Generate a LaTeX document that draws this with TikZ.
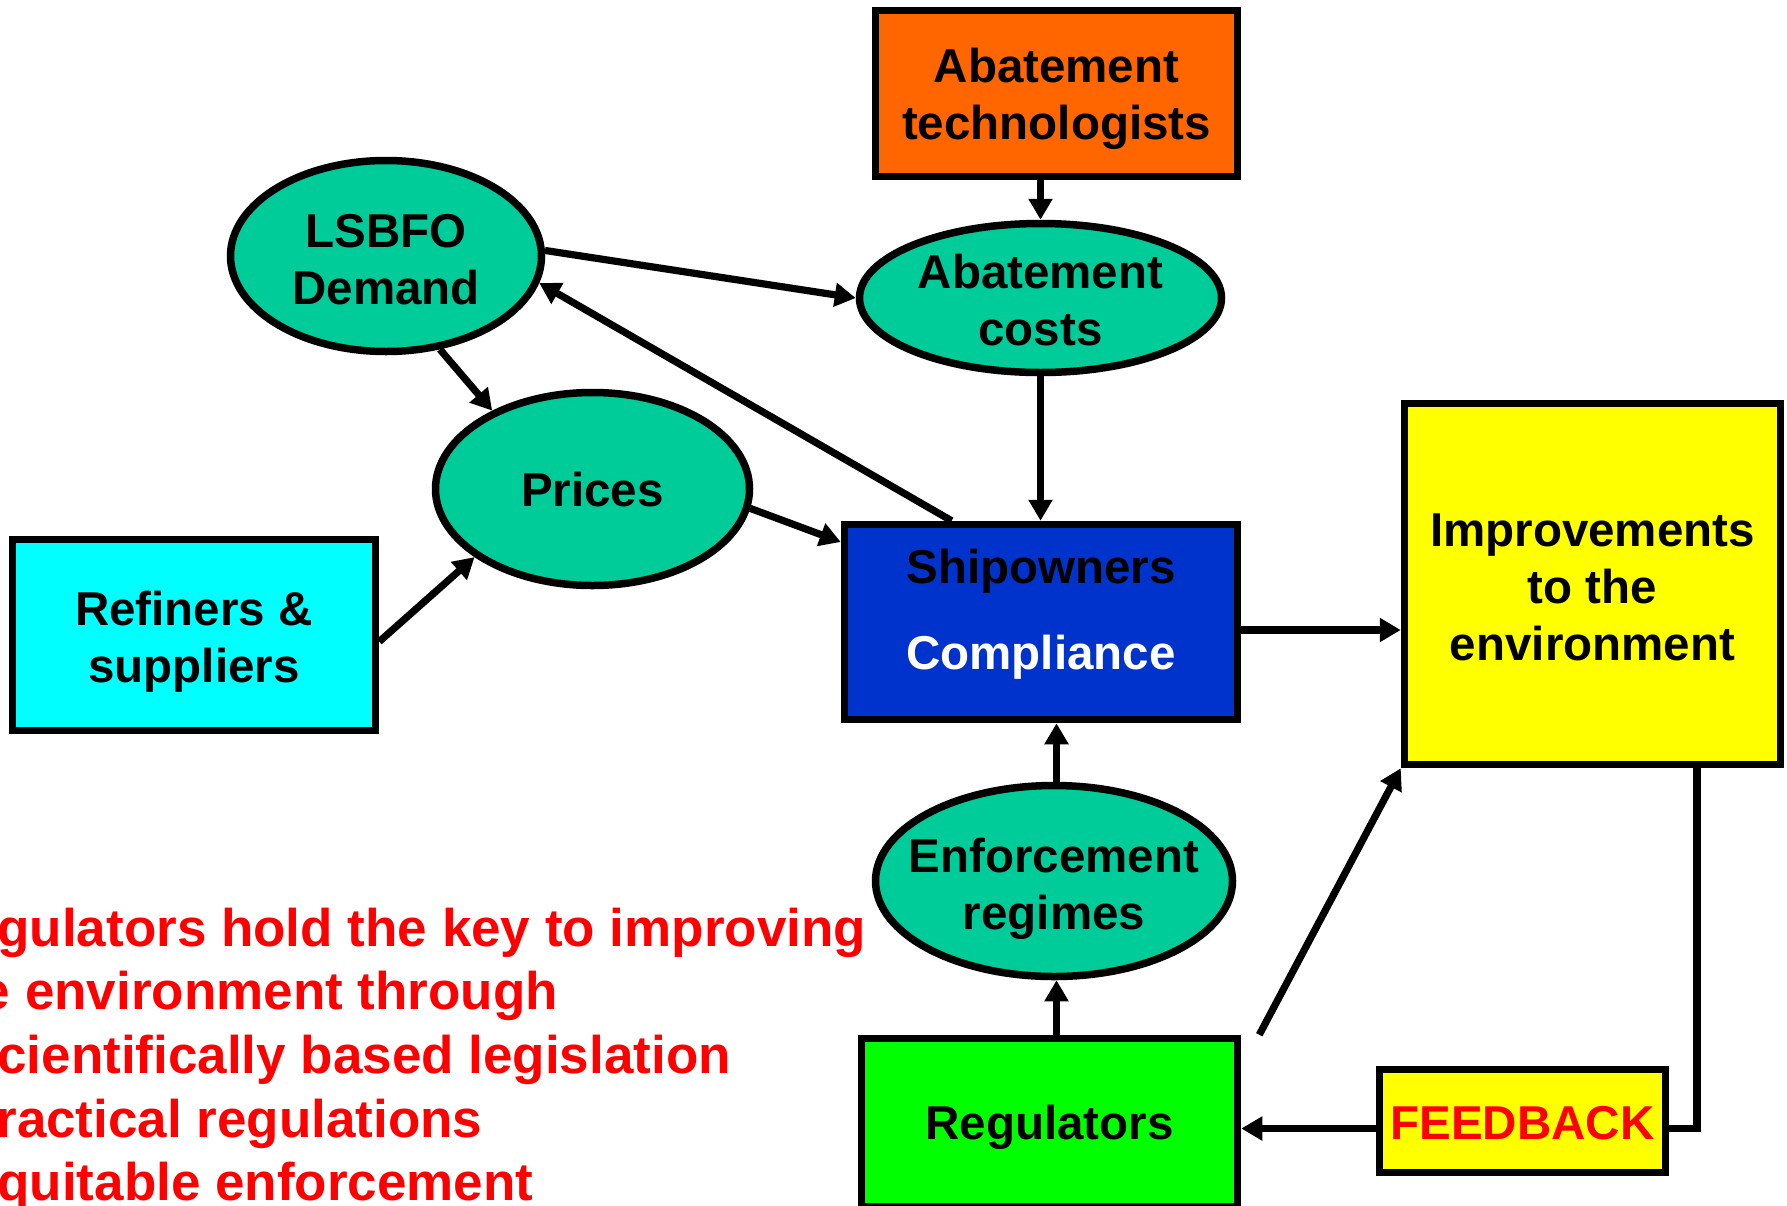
\documentclass[tikz,border=0pt]{standalone}
\usepackage{fontspec}
\setmainfont{Liberation Sans}
\usetikzlibrary{shapes.geometric,arrows.meta,calc}
\definecolor{ovalgreen}{HTML}{00CC99}
\definecolor{techorange}{HTML}{FF6600}
\definecolor{refcyan}{HTML}{00FFFF}
\definecolor{shipblue}{HTML}{0033CC}
\definecolor{envyellow}{HTML}{FFFF00}
\definecolor{regreen}{HTML}{00FF00}
\definecolor{msgred}{HTML}{FF0000}
\begin{document}
\begin{tikzpicture}[x=0.5pt,y=-0.5pt,
  every node/.style={font=\bfseries\fontsize{23.75}{28.5}\selectfont, align=center},
  boxnode/.style={draw, line width=3.75pt, rectangle, inner sep=0pt},
  oval/.style={draw, line width=3.75pt, ellipse, fill=ovalgreen, inner sep=0pt},
  conn/.style={line width=3.6pt, -{Triangle[length=10.5pt,width=11.5pt]}},
  plainline/.style={line width=3.6pt},
  redtext/.style={text=msgred, font=\bfseries\fontsize{26.5}{32}\selectfont, anchor=base west, inner sep=0pt}
]
\useasboundingbox (0,0) rectangle (1787,1205);
\clip (0,0) rectangle (1787,1205);
\fill[white] (0,0) rectangle (1787,1205);

% shapes
\node[boxnode, fill=techorange, minimum width=181pt, minimum height=83pt] (tech) at (1056.5,93.5) {};
\node[oval, minimum width=155.5pt, minimum height=95.5pt] (lsbfo) at (386,256) {};
\node[oval, minimum width=181pt, minimum height=74.5pt] (costs) at (1040.5,298) {};
\node[oval, minimum width=157pt, minimum height=96.5pt] (prices) at (592.5,489) {};
\node[boxnode, fill=refcyan, minimum width=181.5pt, minimum height=95.5pt] (ref) at (194,635) {};
\node[boxnode, fill=shipblue, minimum width=196.5pt, minimum height=97.5pt] (ship) at (1041,622) {};
\node[boxnode, fill=envyellow, minimum width=188pt, minimum height=180.5pt] (improv) at (1592.5,584) {};
\node[oval, minimum width=178.5pt, minimum height=95.5pt] (enforce) at (1054,881) {};
\node[boxnode, fill=regreen, minimum width=188pt, minimum height=84pt] (regul) at (1049.5,1122.5) {};
\node[boxnode, fill=envyellow, minimum width=143pt, minimum height=51.5pt] (feedback) at (1522.5,1121) {};

% texts
\node (techT) at (1056.5,99) {Abatement\\technologists};
\node (lsbfoT) at (386,259.5) {LSBFO\\Demand};
\node (costsT) at (1040.5,300) {Abatement\\costs};
\node (pricesT) at (592.5,490) {Prices};
\node (refT) at (194,641.5) {Refiners \&\\suppliers};
\node (shipA) at (1041,571.5) {Shipowners};
\node[text=white] (shipB) at (1041,657.5) {Compliance};
\node (improvT) at (1592.5,587) {Improvements\\to the\\environment};
\node (enforceT) at (1054,888.5) {Enforcement\\regimes};
\node (regulT) at (1049.5,1127) {Regulators};
\node[text=msgred] (feedbackT) at (1522.5,1123.5) {FEEDBACK};

% red message
\node[redtext] (r1) at (-3,946.5) {gulators hold the key to improving};
\node[redtext] (r2) at (-19.5,1009.5) {e environment through};
\node[redtext] (r3) at (-3,1073.5) {cientifically based legislation};
\node[redtext] (r4) at (-4,1137.5) {ractical regulations};
\node[redtext] (r5) at (-3,1200.5) {quitable enforcement};

% connectors
\draw[conn] ([xshift=-8pt]tech.south) -- (costs.north);
\draw[conn] (lsbfo.2) -- (costs.west);
\draw[conn] ([xshift=-44.7pt]ship.north) -- (lsbfo.-10);
\draw[conn] (lsbfo.-60) -- (prices.142);
\draw[conn] (prices.-7) -- ([yshift=40pt]ship.west);
\draw[conn] ([yshift=-3.3pt]ref.east) -- (prices.210);
\draw[conn] (costs.south) -- (costs.south |- ship.north);
\draw[conn] ([xshift=1.25pt]enforce.north) -- ([xshift=1.25pt]enforce.north |- ship.south);
\draw[conn] ([xshift=3.5pt]regul.north) -- ([xshift=3.5pt]regul.north |- enforce.south);
\draw[conn] ([yshift=-4pt]ship.east) -- ([yshift=-4pt]improv.west |- ship.east);
\draw[conn] ([xshift=9pt]regul.north east) -- (improv.south west);
\draw[plainline] ([xshift=52.25pt]improv.south) |- ([yshift=-3.75pt]feedback.east);
\draw[conn] ([yshift=-3.75pt]feedback.west) -- ([yshift=-3.75pt]regul.east |- feedback.west);
\end{tikzpicture}
\end{document}
